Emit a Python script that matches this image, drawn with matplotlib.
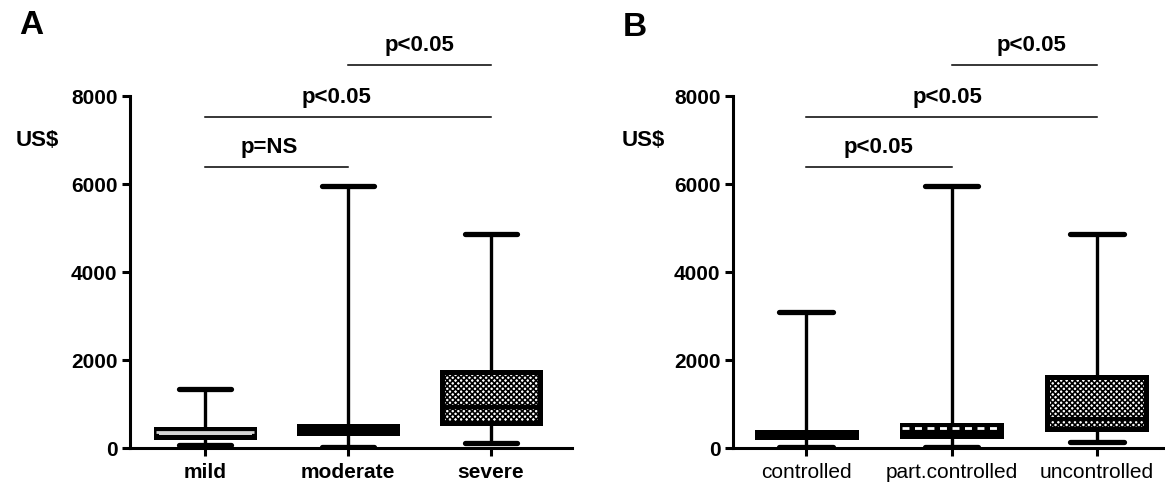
import matplotlib
matplotlib.use("Agg")
import matplotlib.pyplot as plt

# -------------------------------
# Data (US$ per patient)
# -------------------------------
cats_a = ["mild", "moderate", "severe"]
low_a = [68, 20, 110]
q1_a = [239, 352, 557]
med_a = [364, 420, 932]
q3_a = [443, 489, 1716]
high_a = [1340, 5950, 4860]
sig_a = ["p=NS", "p<0.05", "p<0.05"]

cats_b = ["controlled", "part.controlled", "uncontrolled"]
low_b = [20, 20, 136]
q1_b = [239, 284, 443]
med_b = [300, 455, 650]
q3_b = [375, 534, 1625]
high_b = [3090, 5950, 4860]
sig_b = ["p<0.05", "p<0.05", "p<0.05"]

# pairs compared (group from, to) and bar heights
pairs = [(1, 2), (1, 3), (2, 3)]
bar_y = [6390, 7520, 8700]

plt.rcParams["font.family"] = ["Liberation Sans", "DejaVu Sans"]
plt.rcParams["hatch.linewidth"] = 1.2

fig = plt.figure(figsize=(11.65, 4.95), dpi=100)
ax_a = fig.add_axes([130 / 1165, 1 - 448 / 495, 442 / 1165, 418 / 495])
ax_b = fig.add_axes([733 / 1165, 1 - 448 / 495, 432 / 1165, 418 / 495])


def draw_panel(ax, cats, low, q1, med, q3, high, styles, xlim, tick_weight, tick_size):
    stats = []
    for i in range(len(cats)):
        stats.append({"whislo": low[i], "q1": q1[i], "med": med[i],
                      "q3": q3[i], "whishi": high[i], "fliers": []})
    bp = ax.bxp(stats, positions=[1, 2, 3], widths=0.68, capwidths=0.37,
                patch_artist=True, showfliers=False)
    for i, (face, hatch, medcol, medls) in enumerate(styles):
        box = bp["boxes"][i]
        box.set_facecolor(face)
        box.set_edgecolor("black")
        box.set_linewidth(3.6)
        box.set_joinstyle("miter")
        if hatch:
            box.set_hatch(hatch)
        m = bp["medians"][i]
        m.set_color(medcol)
        m.set_linestyle(medls)
        m.set_linewidth(3.0 if medcol == "black" else 2.0)
        m.set_zorder(3)
        m.set_solid_capstyle("butt")
    for w in bp["whiskers"]:
        w.set_color("black")
        w.set_linewidth(2.4)
    for c in bp["caps"]:
        c.set_color("black")
        c.set_linewidth(3.8)
        c.set_solid_capstyle("round")

    ax.set_xlim(*xlim)
    ax.set_ylim(0, 9500)
    ax.spines["top"].set_visible(False)
    ax.spines["right"].set_visible(False)
    ax.spines["left"].set_bounds(0, 8000)
    ax.spines["left"].set_linewidth(2.2)
    ax.spines["bottom"].set_linewidth(2.2)
    ax.set_yticks([0, 2000, 4000, 6000, 8000])
    ax.set_yticklabels(["0", "2000", "4000", "6000", "8000"],
                       fontsize=15, fontweight="bold")
    ax.set_xticks([1, 2, 3])
    ax.set_xticklabels(cats, fontsize=tick_size, fontweight=tick_weight)
    ax.tick_params(axis="both", direction="out", length=6, width=2.2, pad=3)
    ax.tick_params(axis="x", pad=5)


draw_panel(ax_a, cats_a, low_a, q1_a, med_a, q3_a, high_a,
           [("#d4d4d4", None, "#d4d4d4", "-"),
            ("black", None, "black", "-"),
            ("white", "xxxxxx", "black", "-")],
           (1 - 75 / 143, 3 + 81 / 143), "bold", 15)
draw_panel(ax_b, cats_b, low_b, q1_b, med_b, q3_b, high_b,
           [("black", None, "black", "-"),
            ("black", None, "white", (0, (2.5, 2))),
            ("white", "xxxxxx", "black", "-")],
           (1 - 73 / 144.5, 3 + 68 / 144.5), "normal", 15)

# -------------------------------
# Significance bars
# -------------------------------
for ax, sig, txt_x in [(ax_a, sig_a, [1.45, 1.92, 2.5]), (ax_b, sig_b, [1.5, 1.97, 2.55])]:
    for (x0, x1), y, s, tx in zip(pairs, bar_y, sig, txt_x):
        ax.plot([x0, x1], [y, y], color="black", lw=1.1, clip_on=False)
        ax.text(tx, y + 200, s, ha="center", va="bottom", fontsize=16,
                fontweight="bold", clip_on=False)

# -------------------------------
# Labels
# -------------------------------
fig.text(37 / 1165, 1 - 140 / 495, "US$", ha="center", va="center",
         fontsize=16, fontweight="bold")
fig.text(643 / 1165, 1 - 140 / 495, "US$", ha="center", va="center",
         fontsize=16, fontweight="bold")
fig.text(31 / 1165, 1 - 25 / 495, "A", ha="center", va="center",
         fontsize=24, fontweight="bold")
fig.text(635 / 1165, 1 - 28 / 495, "B", ha="center", va="center",
         fontsize=24, fontweight="bold")

fig.savefig("out.png", dpi=100)
